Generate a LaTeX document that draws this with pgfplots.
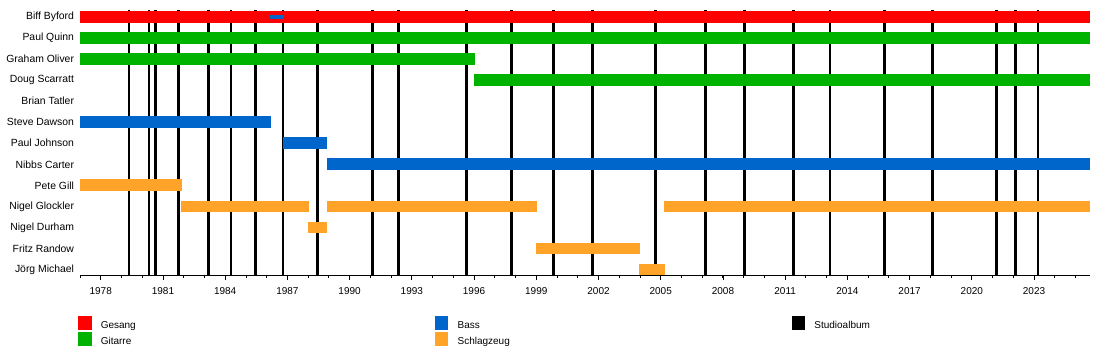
\documentclass[border=0pt]{standalone}
\usepackage{pgfplots}
\pgfplotsset{compat=1.18}
\usepackage{fontspec}
\setmainfont{Liberation Sans}
\definecolor{cvoc}{RGB}{255,0,0}
\definecolor{cgit}{RGB}{0,179,0}
\definecolor{cbass}{RGB}{0,102,204}
\definecolor{cdrum}{RGB}{255,163,41}
\begin{document}
\begin{tikzpicture}
\path[use as bounding box] (-80pt,-79pt) rectangle (1020pt,275pt);
\begin{axis}[
  scale only axis, width=1010pt, height=265pt,
  xmin=1977, xmax=2025.7, ymin=-0.26, ymax=12.33,
  clip=false,
  axis x line*=bottom, axis y line*=left,
  y axis line style={draw=none},
  x axis line style={line width=1pt, -},
  xtick={1978,1981,...,2023},
  minor xtick={1977,...,2025},
  tick align=outside,
  major tick length=5pt, minor tick length=3pt,
  xtick style={black, line width=0.8pt},
  xticklabel style={font=\fontsize{10}{12}\selectfont, inner sep=0pt, anchor=north, yshift=-7pt},
  /pgf/number format/1000 sep={},
  /pgf/number format/assume math mode=true,
  ytick={0,...,12},
  yticklabels={Jörg Michael, Fritz Randow, Nigel Durham, Nigel Glockler, Pete Gill, Nibbs Carter, Paul Johnson, Steve Dawson, Brian Tatler, Doug Scarratt, Graham Oliver, Paul Quinn, Biff Byford},
  ytick style={draw=none},
  yticklabel style={font=\fontsize{10.4}{12}\selectfont, anchor=east, inner sep=0pt, xshift=-0.8pt},
  legend columns=3,
  legend cell align=left,
  legend style={draw=none, fill=none, inner sep=0pt, outer sep=0pt,
    at={(-0.002,-0.1547)}, anchor=north west,
    font=\fontsize{10}{12}\selectfont, row sep=1.7pt,
    nodes={inner sep=0pt},
    /tikz/every odd column/.style={column sep=9.7pt}},
]
% studio albums
\pgfplotsinvokeforeach{1979.36,1980.33,1980.65,1981.74,1983.19,1984.28,1985.47,1986.79,1988.45,1991.09,1992.35,1995.65,1997.81,1999.82,2001.71,2004.75,2007.15,2009.03,2011.39,2013.16,2015.78,2018.09,2021.18,2022.10,2023.19}{
  \addplot[forget plot, black, line width=2.7pt] coordinates {(#1,-0.26) (#1,12.33)};
}
% Biff Byford
\addplot[forget plot, cvoc, line width=11.7pt] coordinates {(1977,12) (2025.7,12)};
\addplot[forget plot, cbass, line width=3.7pt] coordinates {(1986.16,12) (1986.84,12)};
% Paul Quinn
\addplot[forget plot, cgit, line width=11.7pt] coordinates {(1977,11) (2025.7,11)};
% Graham Oliver
\addplot[forget plot, cgit, line width=11.7pt] coordinates {(1977,10) (1996.05,10)};
% Doug Scarratt
\addplot[forget plot, cgit, line width=11.7pt] coordinates {(1996.0,9) (2025.7,9)};
% Steve Dawson
\addplot[forget plot, cbass, line width=11.7pt] coordinates {(1977,7) (1986.19,7)};
% Paul Johnson
\addplot[forget plot, cbass, line width=11.7pt] coordinates {(1986.79,6) (1988.9,6)};
% Nibbs Carter
\addplot[forget plot, cbass, line width=11.7pt] coordinates {(1988.9,5) (2025.7,5)};
% Pete Gill
\addplot[forget plot, cdrum, line width=11.7pt] coordinates {(1977,4) (1981.9,4)};
% Nigel Glockler
\addplot[forget plot, cdrum, line width=11.7pt] coordinates {(1981.87,3) (1988.04,3)};
\addplot[forget plot, cdrum, line width=11.7pt] coordinates {(1988.89,3) (1999.02,3)};
\addplot[forget plot, cdrum, line width=11.7pt] coordinates {(2005.17,3) (2025.7,3)};
% Nigel Durham
\addplot[forget plot, cdrum, line width=11.7pt] coordinates {(1987.99,2) (1988.9,2)};
% Fritz Randow
\addplot[forget plot, cdrum, line width=11.7pt] coordinates {(1998.99,1) (2004.0,1)};
% Jörg Michael
\addplot[forget plot, cdrum, line width=11.7pt] coordinates {(2003.97,0) (2005.19,0)};
% legend
\addlegendimage{legend image code/.code={\fill[cvoc] (0pt,-3pt) rectangle (12.7pt,9.7pt);}}
\addlegendentry{\makebox[334pt][l]{Gesang}}
\addlegendimage{legend image code/.code={\fill[cbass] (0pt,-3pt) rectangle (12.7pt,9.7pt);}}
\addlegendentry{\makebox[334pt][l]{Bass}}
\addlegendimage{legend image code/.code={\fill[black] (0pt,-3pt) rectangle (12.7pt,9.7pt);}}
\addlegendentry{Studioalbum}
\addlegendimage{legend image code/.code={\fill[cgit] (0pt,-3pt) rectangle (12.7pt,9.7pt);}}
\addlegendentry{\makebox[334pt][l]{Gitarre}}
\addlegendimage{legend image code/.code={\fill[cdrum] (0pt,-3pt) rectangle (12.7pt,9.7pt);}}
\addlegendentry{\makebox[334pt][l]{Schlagzeug}}
\end{axis}
\end{tikzpicture}
\end{document}
